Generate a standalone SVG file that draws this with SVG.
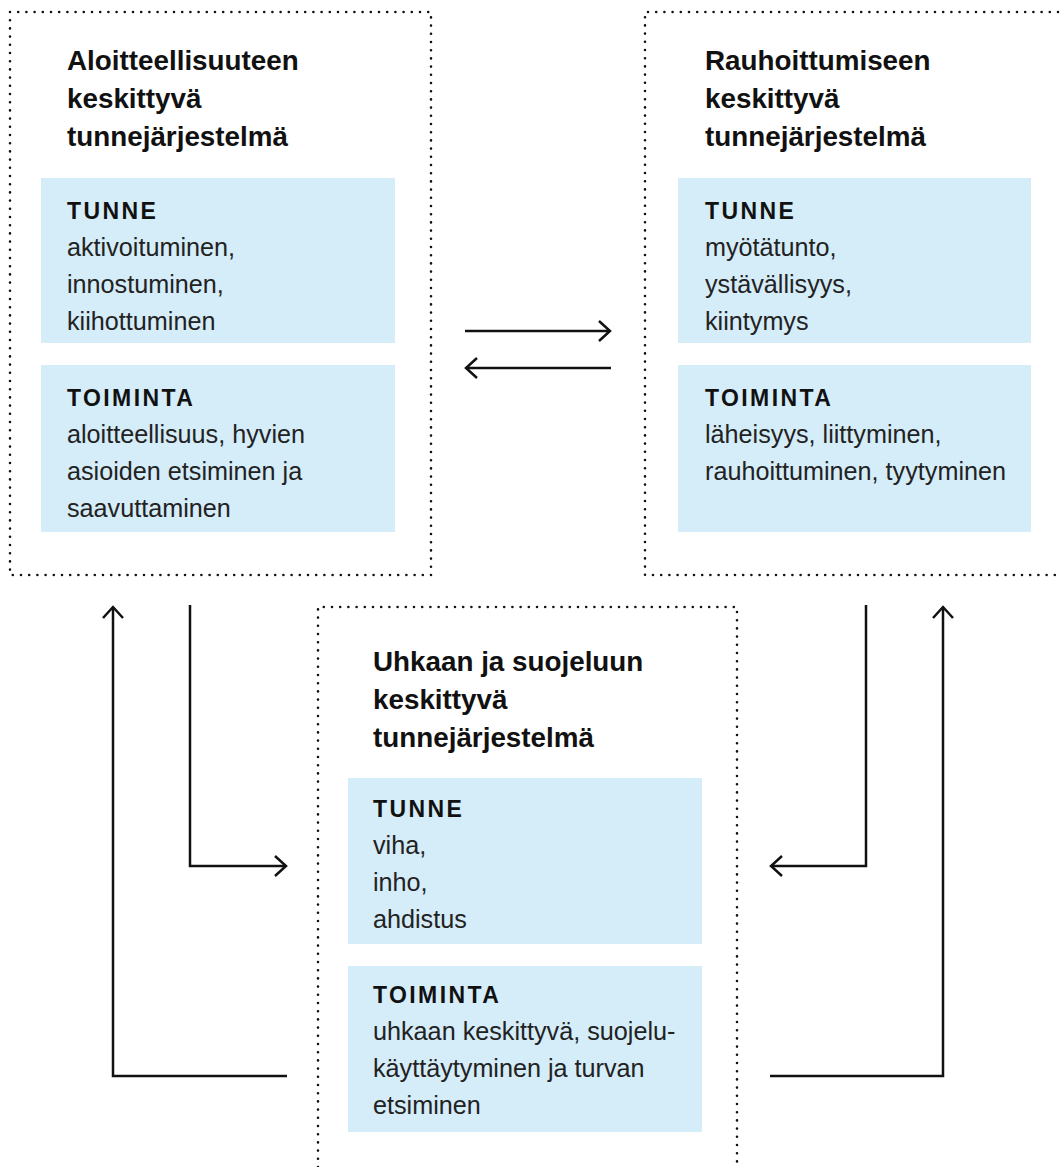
<svg xmlns="http://www.w3.org/2000/svg" width="1061" height="1167" viewBox="0 0 1061 1167">
<style>
.frame{fill:none;stroke:#111;stroke-width:2.6;stroke-linecap:round;stroke-dasharray:0 8.2}
.panel{fill:#d5ecf9}
.title{font-family:"Liberation Sans",Arial,sans-serif;font-weight:bold;font-size:27.8px;fill:#111}
.head{font-family:"Liberation Sans",Arial,sans-serif;font-weight:bold;font-size:23px;letter-spacing:2.4px;fill:#111}
.body{font-family:"Liberation Sans",Arial,sans-serif;font-size:25.2px;fill:#222}
.conn{fill:none;stroke:#111;stroke-width:2.5}
</style>
<defs>
<marker id="chev" markerUnits="userSpaceOnUse" viewBox="-14 -12 16 24" refX="0" refY="0" markerWidth="16" markerHeight="24" orient="auto" overflow="visible">
<path d="M-11,-10 L0,0 L-11,10" fill="none" stroke="#111" stroke-width="2.5"/>
</marker>
</defs>
<g id="node-aloitteellisuus">
<rect class="frame" x="10" y="12" width="421" height="563"/>
<text class="title" x="67" y="70">Aloitteellisuuteen</text>
<text class="title" x="67" y="108">keskittyvä</text>
<text class="title" x="67" y="146">tunnejärjestelmä</text>
<rect class="panel" x="41" y="178" width="354" height="165"/>
<text class="head" x="67" y="219">TUNNE</text>
<text class="body" x="67" y="256">aktivoituminen,</text>
<text class="body" x="67" y="293">innostuminen,</text>
<text class="body" x="67" y="330">kiihottuminen</text>
<rect class="panel" x="41" y="365" width="354" height="167"/>
<text class="head" x="67" y="406">TOIMINTA</text>
<text class="body" x="67" y="443">aloitteellisuus, hyvien</text>
<text class="body" x="67" y="480">asioiden etsiminen ja</text>
<text class="body" x="67" y="517">saavuttaminen</text>
</g>
<g id="node-rauhoittuminen">
<path class="frame" d="M1058,12 H645 V575 H1058"/>
<text class="title" x="705" y="70">Rauhoittumiseen</text>
<text class="title" x="705" y="108">keskittyvä</text>
<text class="title" x="705" y="146">tunnejärjestelmä</text>
<rect class="panel" x="678" y="178" width="353" height="165"/>
<text class="head" x="705" y="219">TUNNE</text>
<text class="body" x="705" y="256">myötätunto,</text>
<text class="body" x="705" y="293">ystävällisyys,</text>
<text class="body" x="705" y="330">kiintymys</text>
<rect class="panel" x="678" y="365" width="353" height="167"/>
<text class="head" x="705" y="406">TOIMINTA</text>
<text class="body" x="705" y="443">läheisyys, liittyminen,</text>
<text class="body" x="705" y="480">rauhoittuminen, tyytyminen</text>
</g>
<g id="node-uhka">
<path class="frame" d="M318,1167 V607 H737 V1167"/>
<text class="title" x="373" y="671">Uhkaan ja suojeluun</text>
<text class="title" x="373" y="709">keskittyvä</text>
<text class="title" x="373" y="747">tunnejärjestelmä</text>
<rect class="panel" x="348" y="778" width="354" height="166"/>
<text class="head" x="373" y="817">TUNNE</text>
<text class="body" x="373" y="854">viha,</text>
<text class="body" x="373" y="891">inho,</text>
<text class="body" x="373" y="928">ahdistus</text>
<rect class="panel" x="348" y="966" width="354" height="166"/>
<text class="head" x="373" y="1003">TOIMINTA</text>
<text class="body" x="373" y="1040">uhkaan keskittyvä, suojelu-</text>
<text class="body" x="373" y="1077">käyttäytyminen ja turvan</text>
<text class="body" x="373" y="1114">etsiminen</text>
</g>
<g id="connectors">
<path class="conn" d="M465,331 H610" marker-end="url(#chev)"/>
<path class="conn" d="M611,368 H466" marker-end="url(#chev)"/>
<path class="conn" d="M287,1076 H113 V607" marker-end="url(#chev)"/>
<path class="conn" d="M190,605 V866 H286" marker-end="url(#chev)"/>
<path class="conn" d="M866,605 V866 H771" marker-end="url(#chev)"/>
<path class="conn" d="M770,1076 H943 V607" marker-end="url(#chev)"/>
</g>
</svg>
